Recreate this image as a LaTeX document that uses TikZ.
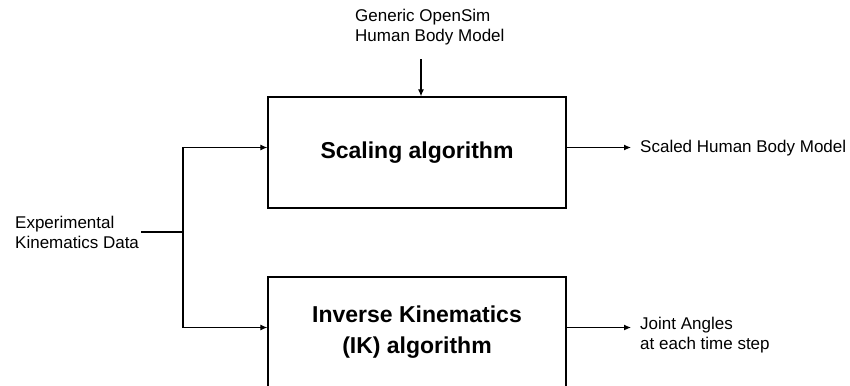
\documentclass[tikz,border=0pt]{standalone}
\usepackage{fontspec}
\setmainfont{Liberation Sans}
\usetikzlibrary{arrows.meta}

\tikzset{
  procbox/.style={draw, line width=1.3pt, minimum width=298pt, minimum height=111pt,
    align=center, font=\fontsize{23}{31}\selectfont\bfseries, inner sep=0pt},
  plaintext/.style={font=\fontsize{17}{20}\selectfont, align=left, inner xsep=2pt, inner ysep=2pt},
  outtext/.style={plaintext, anchor=west, inner xsep=9pt},
  wire/.style={line width=1.1pt},
  arr/.style={wire, -{Latex[length=7pt,width=6pt]}}
}

\begin{document}
\begin{tikzpicture}[x=1pt,y=-1pt]
  \useasboundingbox (0,0) rectangle (850,385);
  \clip (0,0) rectangle (850,385);

  % processing blocks
  \node[procbox] (scale) at (417,152.5) {Scaling algorithm};
  \node[procbox] (ik) at (417,332.5) {Inverse Kinematics\\(IK) algorithm};

  % inputs and outputs
  \node[plaintext, anchor=north west] (gen) at (353,7) {Generic OpenSim\\Human Body Model};
  \node[plaintext, anchor=west] (ek) at (13,232) {Experimental\\Kinematics Data};
  \node[outtext] (out1) at (631,148) {Scaled Human Body Model};
  \node[outtext] (out2) at (631,335) {Joint Angles\\at each time step};

  % model input from above
  \coordinate (scaletop) at ([xshift=4pt]scale.north);
  \draw[arr] (gen.south -| scaletop) ++(0,12) -- (scaletop);

  % kinematics data split into both blocks
  \coordinate (j) at (183,232);
  \coordinate (scalein) at ([yshift=5pt]scale.west);
  \coordinate (ikin) at ([yshift=5pt]ik.west);
  \draw[wire] (ek.east) -- (j);
  \draw[arr] (j) |- (scalein);
  \draw[arr] (j) |- (ikin);

  % outputs
  \coordinate (scaleout) at ([yshift=5pt]scale.east);
  \coordinate (ikout) at ([yshift=5pt]ik.east);
  \draw[arr] (scaleout) -- (scaleout -| out1.west);
  \draw[arr] (ikout) -- (ikout -| out2.west);
\end{tikzpicture}
\end{document}
